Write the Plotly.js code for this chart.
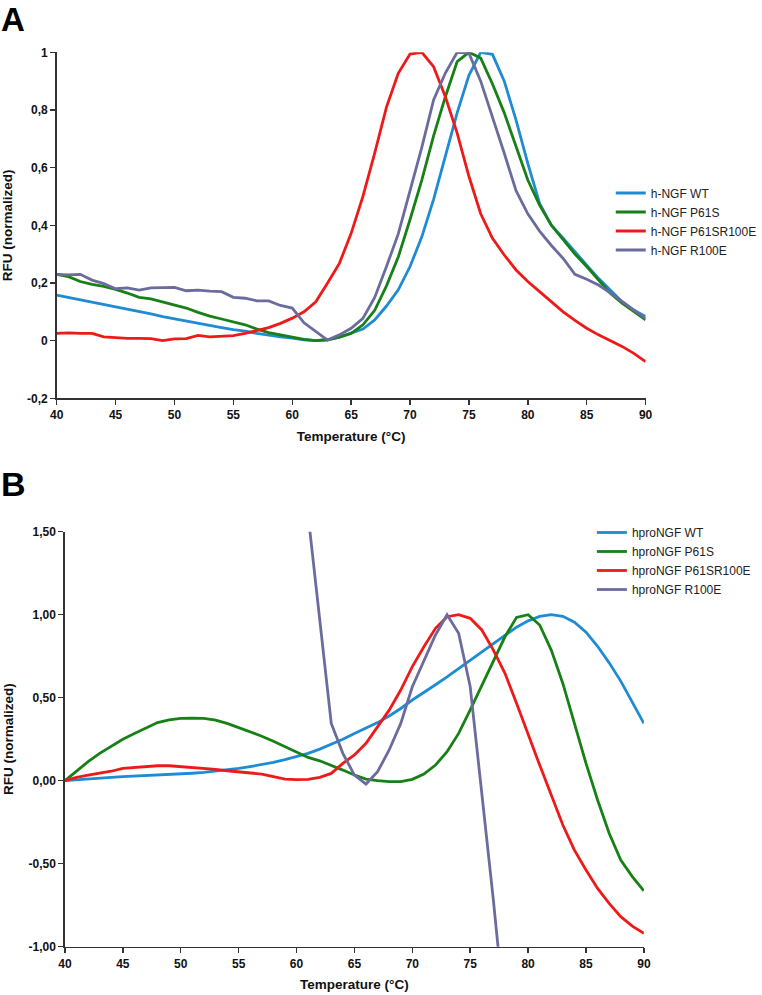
<!DOCTYPE html>
<html>
<head>
<meta charset="utf-8">
<script src="https://cdn.plot.ly/plotly-3.0.1.min.js"></script>
<style>html,body{margin:0;padding:0;background:#fff;}#chart{width:762px;height:995px;}</style>
</head>
<body>
<div id="chart"></div>
<script>
// ---- Data ----
const temps = [40,41,42,43,44,45,46,47,48,49,50,51,52,53,54,55,56,57,58,59,60,61,62,63,64,65,66,67,68,69,70,71,72,73,74,75,76,77,78,79,80,81,82,83,84,85,86,87,88,89,90];

// Panel A (h-NGF)
const namesA = ["h-NGF WT","h-NGF P61S","h-NGF P61SR100E","h-NGF R100E"];
const A_WT = [0.158,0.150,0.142,0.133,0.125,0.117,0.110,0.102,0.093,0.083,0.075,0.068,0.060,0.052,0.045,0.038,0.033,0.025,0.018,0.013,0.009,0.003,0.000,0.003,0.012,0.025,0.040,0.072,0.120,0.176,0.257,0.360,0.490,0.640,0.790,0.920,1.000,0.993,0.900,0.765,0.615,0.476,0.400,0.355,0.310,0.262,0.216,0.176,0.135,0.106,0.083];
const A_P61S = [0.230,0.222,0.205,0.195,0.188,0.178,0.165,0.150,0.145,0.135,0.125,0.113,0.098,0.085,0.075,0.065,0.055,0.040,0.028,0.020,0.012,0.004,0.000,0.003,0.012,0.025,0.055,0.105,0.190,0.290,0.420,0.557,0.710,0.846,0.968,1.000,0.980,0.890,0.790,0.670,0.557,0.470,0.400,0.350,0.300,0.257,0.210,0.164,0.130,0.100,0.072];
const A_P61SR100E = [0.025,0.027,0.025,0.025,0.013,0.010,0.008,0.008,0.007,0.000,0.006,0.007,0.018,0.013,0.016,0.017,0.025,0.035,0.045,0.060,0.078,0.100,0.135,0.200,0.268,0.372,0.500,0.650,0.810,0.927,0.994,1.000,0.950,0.846,0.720,0.570,0.440,0.355,0.297,0.245,0.205,0.170,0.135,0.100,0.070,0.043,0.020,0.000,-0.020,-0.044,-0.073];
const A_R100E = [0.230,0.228,0.230,0.210,0.198,0.180,0.183,0.175,0.183,0.183,0.185,0.173,0.175,0.172,0.170,0.150,0.147,0.138,0.138,0.122,0.113,0.062,0.031,0.002,0.020,0.043,0.077,0.150,0.257,0.370,0.520,0.670,0.835,0.928,1.000,0.997,0.900,0.777,0.650,0.520,0.440,0.380,0.330,0.285,0.230,0.213,0.193,0.166,0.135,0.106,0.077];

// Panel B (hproNGF)
const namesB = ["hproNGF WT","hproNGF P61S","hproNGF P61SR100E","hproNGF R100E"];
const B_WT = [0.000,0.006,0.010,0.015,0.020,0.024,0.027,0.030,0.033,0.036,0.040,0.045,0.050,0.057,0.065,0.074,0.085,0.097,0.110,0.127,0.145,0.165,0.190,0.220,0.250,0.285,0.317,0.350,0.390,0.435,0.486,0.530,0.578,0.625,0.675,0.725,0.775,0.830,0.878,0.925,0.963,0.990,1.000,0.990,0.955,0.895,0.810,0.710,0.600,0.475,0.345];
const B_P61S = [0.000,0.060,0.115,0.165,0.210,0.250,0.285,0.320,0.350,0.367,0.375,0.377,0.375,0.365,0.345,0.320,0.295,0.268,0.238,0.205,0.170,0.140,0.120,0.094,0.064,0.034,0.010,0.000,-0.006,-0.006,0.008,0.040,0.094,0.175,0.285,0.426,0.576,0.727,0.867,0.984,1.000,0.938,0.787,0.586,0.345,0.104,-0.116,-0.317,-0.478,-0.578,-0.663];
const B_P61SR100E = [0.000,0.020,0.034,0.045,0.057,0.074,0.080,0.087,0.090,0.090,0.085,0.080,0.075,0.068,0.060,0.052,0.046,0.040,0.025,0.010,0.006,0.008,0.020,0.044,0.104,0.155,0.225,0.325,0.425,0.546,0.687,0.807,0.918,0.988,1.000,0.978,0.908,0.787,0.647,0.466,0.275,0.094,-0.086,-0.267,-0.418,-0.538,-0.649,-0.739,-0.819,-0.876,-0.920];
const tempsB_R100E = [61,62,63,64,65,66,67,68,69,70,71,72,73,74,75,76,77,78];
const B_R100E = [1.60,0.97,0.345,0.165,0.034,-0.020,0.054,0.185,0.345,0.566,0.727,0.878,1.000,0.888,0.566,-0.076,-0.720,-1.420];

// Ticks
const xTicks = [40,45,50,55,60,65,70,75,80,85,90];
const xTickText = ["40","45","50","55","60","65","70","75","80","85","90"];
const yTicksA = [-0.2,0,0.2,0.4,0.6,0.8,1];
const yTickTextA = ["-0,2","0","0,2","0,4","0,6","0,8","1"];
const yTicksB = [-1,-0.5,0,0.5,1,1.5];
const yTickTextB = ["-1,00","-0,50","0,00","0,50","1,00","1,50"];

// ---- Styles ----
const colors = ["#1f8bd3","#178017","#ee1a1a","#6b6b9e"];
const FONT = "Liberation Sans, Arial, Helvetica, sans-serif";

const seriesA = [A_WT, A_P61S, A_P61SR100E, A_R100E];
const traces = [];
seriesA.forEach((ys, i) => {
  traces.push({x: temps, y: ys, name: namesA[i], type: "scatter", mode: "lines",
    line: {color: colors[i], width: 2.8}, xaxis: "x", yaxis: "y", legend: "legend"});
});
const seriesB = [[temps,B_WT],[temps,B_P61S],[temps,B_P61SR100E],[tempsB_R100E,B_R100E]];
seriesB.forEach((s, i) => {
  traces.push({x: s[0], y: s[1], name: namesB[i], type: "scatter", mode: "lines",
    line: {color: colors[i], width: 2.8}, xaxis: "x2", yaxis: "y2", legend: "legend2"});
});

function xax(domain, anchor) {
  return {domain: domain, anchor: anchor, range: [40, 90], tickmode: "array",
    tickvals: xTicks, ticktext: xTickText, ticks: "outside", ticklen: 5, tickwidth: 1.5,
    tickcolor: "#333", showline: true, linecolor: "#333", linewidth: 1.6,
    showgrid: false, zeroline: false,
    tickfont: {family: FONT, size: 12, color: "#111", weight: "bold"},
    title: {text: "Temperature (°C)", font: {family: FONT, size: 13.5, color: "#111", weight: "bold"}, standoff: 10}};
}
function yax(domain, anchor, range, tv, tt) {
  return {domain: domain, anchor: anchor, range: range, tickmode: "array",
    tickvals: tv, ticktext: tt, ticks: "outside", ticklen: 5, tickwidth: 1.5,
    tickcolor: "#333", showline: true, linecolor: "#333", linewidth: 1.6,
    showgrid: false, zeroline: false,
    tickfont: {family: FONT, size: 12, color: "#111", weight: "bold"},
    title: {text: "RFU (normalized)", font: {family: FONT, size: 13.5, color: "#111", weight: "bold"}, standoff: 12}};
}

const W = 762, H = 995;
const layout = {
  width: W, height: H,
  margin: {l: 0, r: 0, t: 0, b: 0},
  paper_bgcolor: "#fff", plot_bgcolor: "#fff",
  font: {family: FONT, color: "#111"},
  xaxis: xax([57/W, 649/W], "y"),
  yaxis: yax([1 - 398.3/H, 1 - 52.3/H], "x", [-0.2, 1], yTicksA, yTickTextA),
  xaxis2: xax([65.3/W, 647.3/W], "y2"),
  yaxis2: yax([1 - 946.7/H, 1 - 531.7/H], "x2", [-1, 1.5], yTicksB, yTickTextB),
  legend: {x: 614/W, xanchor: "left", y: 1 - 221.5/H, yanchor: "middle",
    font: {family: FONT, size: 12, color: "#222"}, bgcolor: "rgba(0,0,0,0)", traceorder: "normal"},
  legend2: {x: 595/W, xanchor: "left", y: 1 - 561/H, yanchor: "middle",
    font: {family: FONT, size: 12, color: "#222"}, bgcolor: "rgba(0,0,0,0)", traceorder: "normal"},
  showlegend: true,
  annotations: [
    {text: "A", xref: "paper", yref: "paper", x: 0, y: 1, xanchor: "left", yanchor: "top", borderpad: 0,
      showarrow: false, font: {family: FONT, size: 33, color: "#000", weight: "bold"}},
    {text: "B", xref: "paper", yref: "paper", x: 0, y: 1 - 464/H, xanchor: "left", yanchor: "top", borderpad: 0,
      showarrow: false, font: {family: FONT, size: 34, color: "#000", weight: "bold"}}
  ]
};

Plotly.newPlot("chart", traces, layout, {staticPlot: true, displayModeBar: false});
</script>
</body>
</html>
